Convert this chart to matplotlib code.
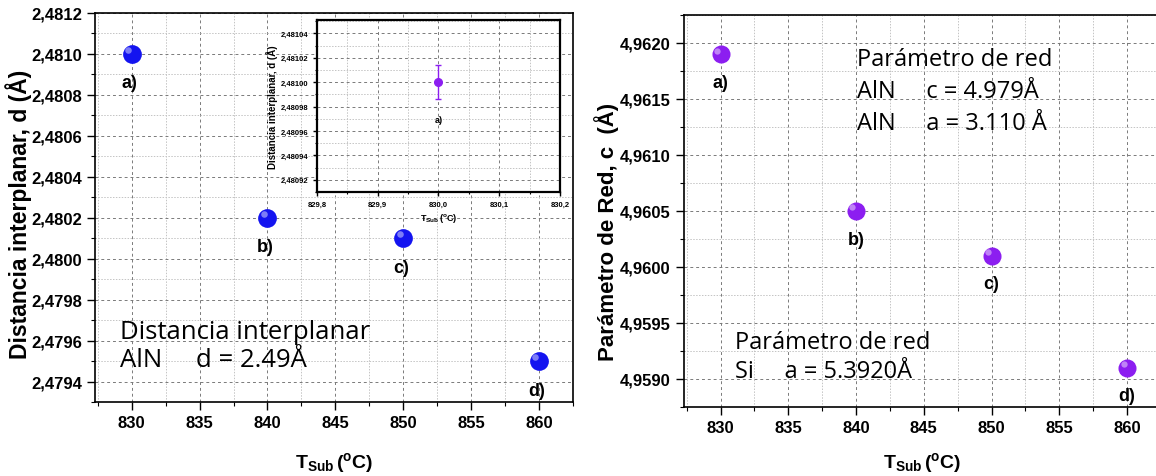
import matplotlib
matplotlib.use("Agg")
import matplotlib.pyplot as plt
from matplotlib.ticker import MultipleLocator, FuncFormatter
from matplotlib.transforms import offset_copy

plt.rcParams["font.family"] = ["Liberation Sans", "DejaVu Sans"]
plt.rcParams["mathtext.fontset"] = "custom"
plt.rcParams["mathtext.rm"] = "Liberation Sans:bold"
plt.rcParams["mathtext.bf"] = "Liberation Sans:bold"
plt.rcParams["mathtext.it"] = "Liberation Sans:bold"

# Substrate temperature (°C)
t_sub = [830, 840, 850, 860]
point_labels = ["a)", "b)", "c)", "d)"]

# Interplanar distance d (Å) of AlN
d_spacing = [2.4810, 2.4802, 2.4801, 2.4795]

# Lattice parameter c (Å)
c_param = [4.9619, 4.9605, 4.9601, 4.9591]

# Single measurement with its error bar (inset)
inset_t = [830.0]
inset_d = [2.48100]
inset_err = [0.000014]

BLUE = "#1414f0"
PURPLE = "#8c1ef0"
NOTE_FONT = ["Open Sans", "DejaVu Sans"]


def comma_fmt(decimals):
    return FuncFormatter(lambda v, p: f"{v:.{decimals}f}".replace(".", ","))


def style_axes(ax, major_x, minor_x, major_y, minor_y, lab_size, tick_len=6, spine_w=1.2):
    ax.xaxis.set_major_locator(MultipleLocator(major_x))
    ax.xaxis.set_minor_locator(MultipleLocator(minor_x))
    ax.yaxis.set_major_locator(MultipleLocator(major_y))
    ax.yaxis.set_minor_locator(MultipleLocator(minor_y))
    ax.grid(which="major", linestyle=(0, (3, 3)), color="#7a7a7a", linewidth=0.7)
    ax.grid(which="minor", linestyle=(0, (1.5, 1.5)), color="#c4c4c4", linewidth=0.7)
    ax.set_axisbelow(True)
    ax.tick_params(which="major", direction="out", length=tick_len, width=1.0,
                   labelsize=lab_size, top=False, right=False)
    ax.tick_params(which="minor", direction="out", length=tick_len * 0.5, width=0.8,
                   top=False, right=False)
    for s in ax.spines.values():
        s.set_linewidth(spine_w)


def bold_ticks(ax):
    for lab in ax.get_xticklabels() + ax.get_yticklabels():
        lab.set_fontweight("bold")


def sphere(ax, x, y, color, size):
    ax.plot(x, y, "o", color=color, markersize=size, markeredgewidth=0, zorder=4)
    hl = offset_copy(ax.transData, fig=ax.figure, x=-size * 0.2, y=size * 0.2, units="points")
    ax.plot(x, y, "o", color="white", alpha=0.45, markersize=size * 0.35,
            markeredgewidth=0, transform=hl, zorder=5)


fig = plt.figure(figsize=(11.56, 4.77), dpi=100)

# ---- left panel: interplanar distance ----
ax1 = fig.add_axes([95 / 1156, 74 / 477, 478 / 1156, 389 / 477])
ax1.set_xlim(827.3, 862.5)
ax1.set_ylim(2.4793, 2.4812)
style_axes(ax1, 5, 2.5, 0.0002, 0.0001, 12)
ax1.yaxis.set_major_formatter(comma_fmt(4))
bold_ticks(ax1)
sphere(ax1, t_sub, d_spacing, BLUE, 13.5)
for x, y, s in zip(t_sub, d_spacing, point_labels):
    ax1.annotate(s, (x, y), xytext=(-2, -29), textcoords="offset pixels",
                 ha="center", va="center", fontsize=13, fontweight="bold")
ax1.set_ylabel("Distancia interplanar, d (Å)", fontsize=16.5, fontweight="bold", labelpad=-1)
ax1.yaxis.label.set_y(0.485)
ax1.set_xlabel(r"$\mathbf{T_{Sub}\,(^{o}C)}$", fontsize=14, labelpad=14)
ax1.text(0.052, 0.18, "Distancia interplanar", transform=ax1.transAxes,
         fontsize=18.5, family=NOTE_FONT, va="center")
ax1.text(0.052, 0.11, "AlN     d = 2.49Å", transform=ax1.transAxes,
         fontsize=18.5, family=NOTE_FONT, va="center")

# ---- inset: single point with error bar ----
axi = fig.add_axes([317 / 1156, 284 / 477, 243 / 1156, 172 / 477])
axi.set_facecolor("white")
axi.set_xlim(829.8, 830.2)
axi.set_ylim(2.48091, 2.481051)
style_axes(axi, 0.1, 0.05, 0.00002, 0.00001, 5.5, tick_len=3, spine_w=1.6)
axi.xaxis.set_major_formatter(comma_fmt(1))
axi.yaxis.set_major_formatter(comma_fmt(5))
bold_ticks(axi)
axi.errorbar(inset_t, inset_d, yerr=inset_err, fmt="o", color=PURPLE, markersize=5.5,
             capsize=2.5, elinewidth=1.0, capthick=1.0, zorder=4)
axi.annotate("a)", (inset_t[0], inset_d[0]), xytext=(0, -37), textcoords="offset pixels",
             ha="center", va="center", fontsize=6.5, fontweight="bold")
axi.set_ylabel("Distancia interplanar, d (Å)", fontsize=7, fontweight="bold", labelpad=2)
axi.set_xlabel(r"$\mathbf{T_{Sub}\,(^{o}C)}$", fontsize=6.5, labelpad=2)

# ---- right panel: lattice parameter c ----
ax2 = fig.add_axes([684 / 1156, 69 / 477, 477 / 1156, 392 / 477])
ax2.set_xlim(827.3, 862.5)
ax2.set_ylim(4.95875, 4.96225)
style_axes(ax2, 5, 2.5, 0.0005, 0.00025, 12)
ax2.yaxis.set_major_formatter(comma_fmt(4))
bold_ticks(ax2)
sphere(ax2, t_sub, c_param, PURPLE, 13)
for x, y, s in zip(t_sub, c_param, point_labels):
    ax2.annotate(s, (x, y), xytext=(0, -28), textcoords="offset pixels",
                 ha="center", va="center", fontsize=13, fontweight="bold")
ax2.set_ylabel("Parámetro de Red, c  (Å)", fontsize=16, fontweight="bold", labelpad=1)
ax2.yaxis.label.set_y(0.45)
ax2.set_xlabel(r"$\mathbf{T_{Sub}\,(^{o}C)}$", fontsize=14, labelpad=11)
ax2.text(0.362, 0.888, "Parámetro de red", transform=ax2.transAxes,
         fontsize=17, family=NOTE_FONT, va="center")
ax2.text(0.362, 0.806, "AlN     c = 4.979Å", transform=ax2.transAxes,
         fontsize=17, family=NOTE_FONT, va="center")
ax2.text(0.362, 0.724, "AlN     a = 3.110 Å", transform=ax2.transAxes,
         fontsize=17, family=NOTE_FONT, va="center")
ax2.text(0.107, 0.166, "Parámetro de red", transform=ax2.transAxes,
         fontsize=17, family=NOTE_FONT, va="center")
ax2.text(0.107, 0.092, "Si     a = 5.3920Å", transform=ax2.transAxes,
         fontsize=17, family=NOTE_FONT, va="center")

fig.savefig("out.png", dpi=100)
